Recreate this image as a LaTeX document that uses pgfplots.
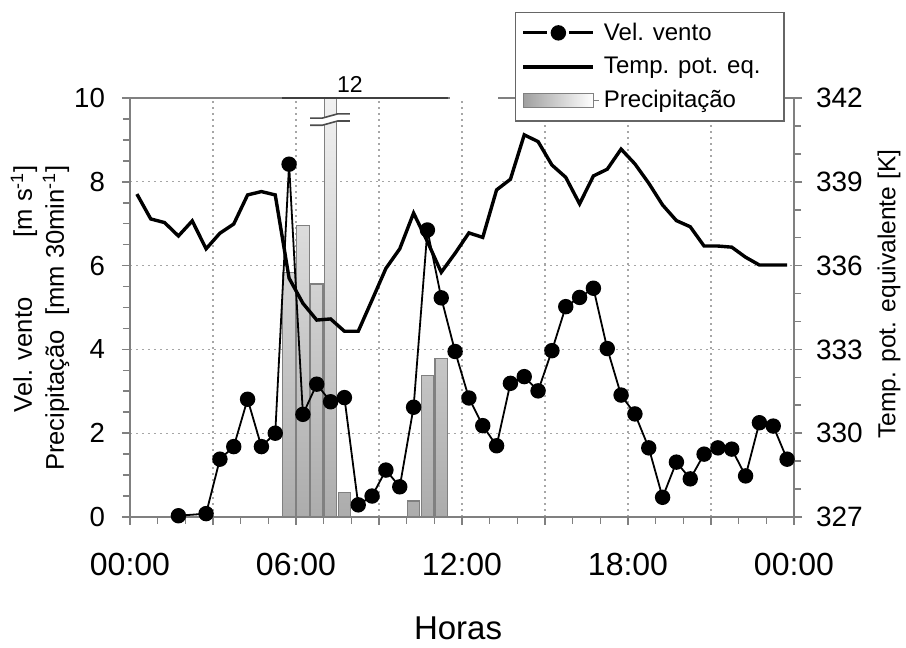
\documentclass[border=0pt]{standalone}
\usepackage{pgfplots}
\pgfplotsset{compat=1.18}
\usepackage{fontspec}
\setmainfont{Liberation Sans}
\begin{document}
\begin{tikzpicture}
\pgfplotsset{
  common/.style={
    scale only axis, width=332pt, height=209.5pt,
    xmin=0, xmax=24, at={(0,0)}, anchor=south west,
  },
}
% ---------------- axis 1: precipitation bars, left axis, grid
\begin{axis}[common,
  ymin=0, ymax=10,
  clip mode=individual,
  xtick={0,3,...,24}, xticklabels={00:00,,06:00,,12:00,,18:00,,00:00},
  minor x tick num=2,
  ytick={0,2,...,10}, minor y tick num=3,
  xtick pos=bottom, ytick pos=left,
  tick align=outside,
  major tick length=4pt, minor tick length=3.5pt,
  axis line style={gray, line width=0.8pt},
  tick style={gray, line width=0.8pt},
  grid=major,
  grid style={gray!70, line width=0.6pt, dash pattern=on 1.2pt off 1.8pt},
  xticklabel style={font=\fontsize{16}{19}\selectfont, yshift=-10.5pt},
  yticklabel style={font=\fontsize{13.8}{16}\selectfont, xshift=-5pt},
  /pgf/number format/assume math mode=true,
  xlabel={Horas},
  xlabel style={font=\fontsize{16.5}{20}\selectfont, at={(rel axis cs:0.494,-0.265)}, anchor=center},
  ylabel={Vel. vento\hspace{30pt}[m s\textsuperscript{-1}]\\Precipitação\ \ [mm 30min\textsuperscript{-1}]},
  ylabel style={font=\fontsize{12.8}{16}\selectfont, at={(rel axis cs:-0.1355,0.475)}, anchor=center, align=right},
]
\addplot[ybar, bar width=0.45, draw=gray, line width=0.6pt, top color=white, bottom color=gray!65] table {
x y
5.75 5.83
6.25 6.95
6.75 5.56
7.25 12
7.75 0.59
10.25 0.38
10.75 3.37
11.25 3.79
};
% broken bar marker
\fill[white] (axis cs:6.98,9.36) -- (axis cs:7.52,9.43) -- (axis cs:7.52,9.60) -- (axis cs:6.98,9.53) -- cycle;
\draw[black!70, line width=0.8pt] (axis cs:6.51,9.52) -- (axis cs:6.95,9.52) -- (axis cs:7.5,9.62) -- (axis cs:7.95,9.62);
\draw[black!70, line width=0.8pt] (axis cs:6.51,9.35) -- (axis cs:6.95,9.35) -- (axis cs:7.5,9.45) -- (axis cs:7.95,9.45);
\draw[white, line width=2pt] (axis cs:11.55,10) -- (axis cs:13.3,10);
\draw[black!75, line width=0.9pt] (axis cs:5.5,10) -- (axis cs:11.5,10);
\node[anchor=south, inner sep=0pt, yshift=2.5pt, font=\fontsize{11.5}{14}\selectfont] at (axis cs:7.95,10) {12};
\end{axis}
% ---------------- axis 2: temperature, right axis
\begin{axis}[common,
  ymin=327, ymax=342,
  ytick={327,330,...,342}, minor y tick num=2,
  axis y line*=right, axis x line=none,
  tick align=outside,
  major tick length=4pt, minor tick length=3.5pt,
  axis line style={gray, line width=0.8pt},
  tick style={gray, line width=0.8pt},
  yticklabel style={font=\fontsize{14}{17}\selectfont, xshift=3.5pt},
  /pgf/number format/assume math mode=true,
  /pgf/number format/1000 sep={},
  ylabel={Temp. pot. equivalente [K]},
  ylabel style={font=\fontsize{12.3}{15}\selectfont, at={(rel axis cs:1.143,0.532)}, anchor=center, rotate=0},
]
\addplot[black, line width=1.7pt] table {
x y
0.25 338.56
0.75 337.67
1.25 337.54
1.75 337.06
2.25 337.60
2.75 336.60
3.25 337.16
3.75 337.49
4.25 338.53
4.75 338.65
5.25 338.53
5.75 335.55
6.25 334.65
6.75 334.05
7.25 334.09
7.75 333.65
8.25 333.65
8.75 334.77
9.25 335.90
9.75 336.60
10.25 337.88
10.75 336.86
11.25 335.76
11.75 336.44
12.25 337.17
12.75 337.01
13.25 338.71
13.75 339.09
14.25 340.68
14.75 340.44
15.25 339.60
15.75 339.16
16.25 338.21
16.75 339.21
17.25 339.45
17.75 340.17
18.25 339.64
18.75 338.95
19.25 338.17
19.75 337.61
20.25 337.39
20.75 336.70
21.25 336.70
21.75 336.66
22.25 336.30
22.75 336.02
23.25 336.02
23.75 336.02
};
\end{axis}
% ---------------- axis 3: wind speed + legend
\begin{axis}[common,
  ymin=0, ymax=10, hide axis,
  legend style={at={(rel axis cs:0.5798,1.2053)}, anchor=north west,
    draw=gray!80!black, line width=0.7pt, fill=white,
    font=\fontsize{12}{14}\selectfont, inner xsep=3pt, inner ysep=3pt,
    row sep=3pt},
  legend cell align=left,
]
\addplot[black, line width=0.9pt, mark=*, mark size=3.4pt,
  legend image code/.code={\draw[black, line width=1.4pt] (0pt,0pt) -- (12pt,0pt); \draw[black, line width=1.4pt] (23pt,0pt) -- (35pt,0pt); \fill[black] (17.5pt,0pt) circle (3.4pt);}] table {
x y
1.75 0.03
2.75 0.08
3.25 1.38
3.75 1.68
4.25 2.81
4.75 1.68
5.25 2.00
5.75 8.42
6.25 2.45
6.75 3.17
7.25 2.75
7.75 2.85
8.25 0.29
8.75 0.50
9.25 1.12
9.75 0.72
10.25 2.62
10.75 6.85
11.25 5.23
11.75 3.95
12.25 2.84
12.75 2.18
13.25 1.70
13.75 3.19
14.25 3.35
14.75 3.01
15.25 3.97
15.75 5.02
16.25 5.24
16.75 5.46
17.25 4.02
17.75 2.91
18.25 2.46
18.75 1.65
19.25 0.47
19.75 1.31
20.25 0.91
20.75 1.50
21.25 1.65
21.75 1.62
22.25 0.98
22.75 2.25
23.25 2.17
23.75 1.38
};
\addlegendimage{legend image code/.code={\draw[black, line width=1.7pt] (0pt,0pt) -- (35pt,0pt);}}
\addlegendimage{legend image code/.code={\draw[gray, line width=0.6pt, left color=gray!75, right color=white] (0pt,-3.5pt) rectangle (35pt,3.5pt); \draw[gray, line width=0.6pt] (35pt,0pt) -- (38pt,0pt);}}
\legend{Vel. vento, \makebox[85pt][l]{Temp. pot. eq.}, Precipitação}
\end{axis}
\pgfresetboundingbox
\path[use as bounding box] (-65pt,-65.5pt) rectangle (388pt,258.5pt);
\end{tikzpicture}
\end{document}
